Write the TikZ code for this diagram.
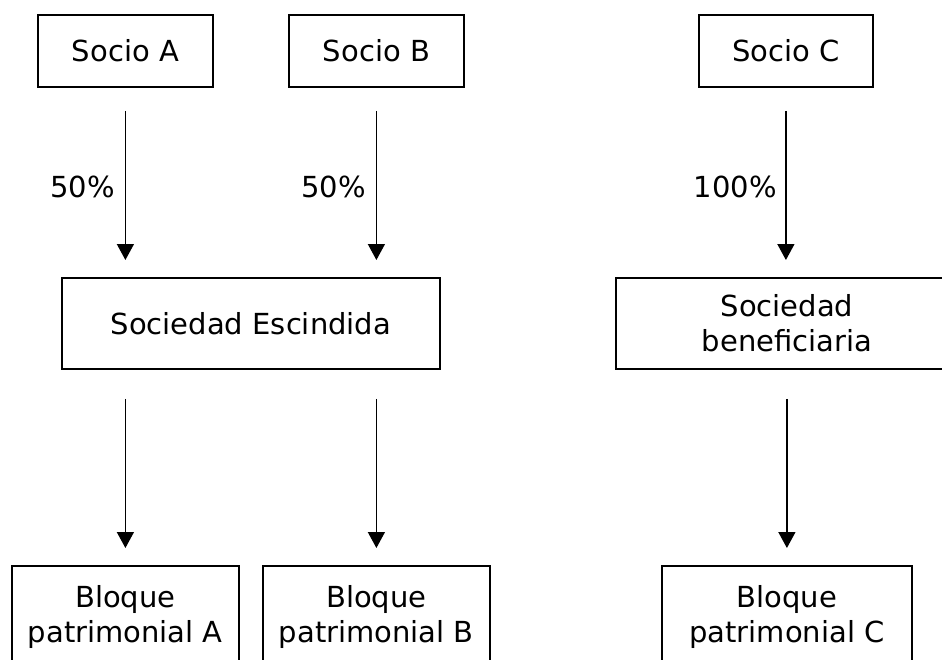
\documentclass[tikz,border=0pt]{standalone}
\usepackage{fontspec}
\setmainfont{DejaVu Sans}
\usetikzlibrary{arrows.meta}
\begin{document}
\begin{tikzpicture}[x=1pt,y=-1pt,
  box/.style={draw,line width=1.8pt,inner sep=0pt,anchor=north west,font=\fontsize{29}{35}\selectfont,align=center},
  arr/.style={line width=1.5pt,-{Triangle[width=17pt,length=16pt]}},
  pct/.style={anchor=east,inner sep=0pt,font=\fontsize{29}{35}\selectfont}]
\useasboundingbox (0,0) rectangle (942,659);
\clip (0,0) rectangle (942,659);
\node[box,minimum width=175pt,minimum height=72pt] (sa) at (37,14) {Socio A};
\node[box,minimum width=175pt,minimum height=72pt] (sb) at (288,14) {Socio B};
\node[box,minimum width=174pt,minimum height=72pt] (sc) at (698,14) {Socio C};
\node[box,minimum width=378pt,minimum height=91pt] (se) at (61,277) {Sociedad Escindida};
\node[box,minimum width=342pt,minimum height=91pt] (sbn) at (615,277) {Sociedad\\beneficiaria};
\node[box,minimum width=227pt,minimum height=103pt] (ba) at (11,565) {Bloque\\patrimonial A};
\node[box,minimum width=227pt,minimum height=103pt] (bb) at (262,565) {Bloque\\patrimonial B};
\node[box,minimum width=250pt,minimum height=103pt] (bc) at (661,565) {Bloque\\patrimonial C};
\draw[arr,shorten <=23pt,shorten >=17pt] (sa.south) -- (sa.south |- se.north);
\draw[arr,shorten <=23pt,shorten >=17pt] (sb.south) -- (sb.south |- se.north);
\draw[arr,shorten <=23pt,shorten >=17pt] (sc.south) -- (sc.south |- sbn.north);
\draw[arr,shorten <=29pt,shorten >=17pt] (se.south -| ba.north) -- (ba.north);
\draw[arr,shorten <=29pt,shorten >=17pt] (se.south -| bb.north) -- (bb.north);
\draw[arr,shorten <=29pt,shorten >=17pt] (sbn.south -| bc.north) -- (bc.north);
\node[pct] (la) at (115,187) {50\%};
\node[pct] (lb) at (366,187) {50\%};
\node[pct] (lc) at (777,187) {100\%};
\end{tikzpicture}
\end{document}
